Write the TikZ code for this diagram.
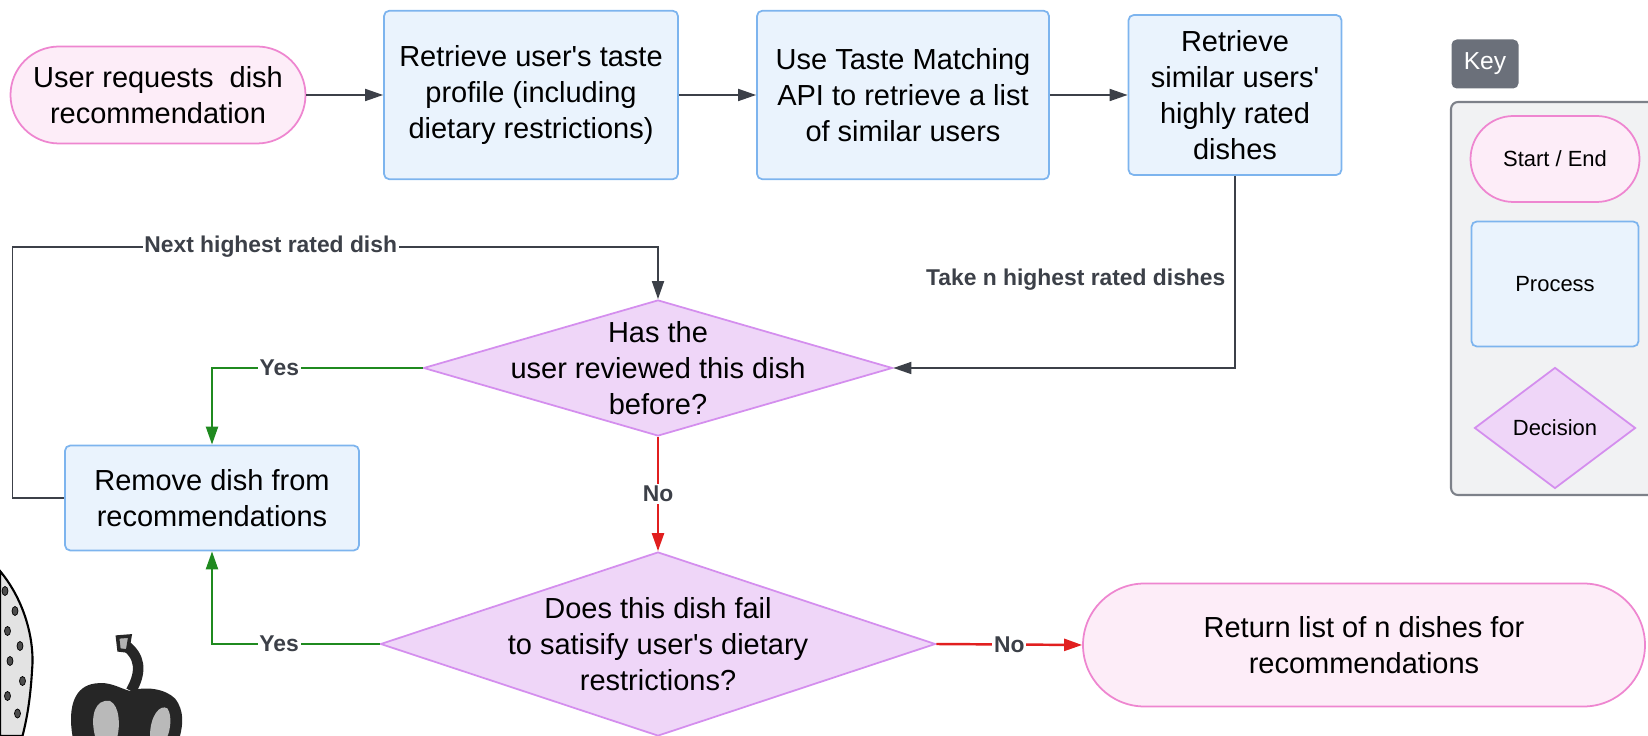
\documentclass[tikz,border=0pt]{standalone}
\usepackage{fontspec}
\setmainfont{Liberation Sans}
\usetikzlibrary{shapes.geometric,arrows.meta}
\definecolor{startfill}{HTML}{FDEDF8}
\definecolor{startdraw}{HTML}{EE86D0}
\definecolor{procfill}{HTML}{EAF3FD}
\definecolor{procdraw}{HTML}{7DB4EE}
\definecolor{decfill}{HTML}{EFD6F8}
\definecolor{decdraw}{HTML}{D48EEE}
\definecolor{linkgray}{HTML}{3C4048}
\definecolor{yesgreen}{HTML}{1F8A1F}
\definecolor{nored}{HTML}{E11F1F}
\definecolor{panelfill}{HTML}{F1F2F3}
\definecolor{paneldraw}{HTML}{7D8189}
\definecolor{tagfill}{HTML}{6B707A}
\newcommand{\q}{\textquotesingle}
\begin{document}
\begin{tikzpicture}[font=\fontsize{16.5}{20.5}\selectfont,>={Triangle[length=3.6mm,width=2.4mm]},
	startend/.style={draw=startdraw,fill=startfill,line width=1pt,align=center},
	process/.style={draw=procdraw,fill=procfill,line width=1pt,rounded corners=3pt,align=center},
	decision/.style={diamond,draw=decdraw,fill=decfill,line width=1pt,inner sep=0pt},
	link/.style={draw=linkgray,line width=1pt},
	yes/.style={draw=yesgreen,line width=1.3pt,->},
	no/.style={draw=nored,line width=1.4pt,->},
	lab/.style={font=\fontsize{13}{15}\selectfont\bfseries,text=linkgray,fill=white,inner sep=1pt},
	keyfont/.style={font=\fontsize{12.5}{15}\selectfont}]
	\path[use as bounding box] (0,0) rectangle (32.96,14.72);
	%	top row
	\node[startend,minimum width=5.9cm,minimum height=1.94cm,rounded corners=0.97cm] (start) at (3.16,12.82) {User requests~ dish\\recommendation};
	\node[process,minimum width=5.88cm,minimum height=3.37cm] (profile) at (10.62,12.82) {Retrieve user\q s taste\\profile (including\\dietary restrictions)};
	\node[process,minimum width=5.84cm,minimum height=3.37cm] (match) at (18.06,12.82) {Use Taste Matching\\API to retrieve a list\\of similar users};
	\node[process,minimum width=4.26cm,minimum height=3.2cm] (similar) at (24.7,12.82) {Retrieve\\similar users\q\\highly rated\\dishes};
	%	decisions
	\node[decision,minimum width=9.38cm,minimum height=2.72cm,
		label={[align=center]center:Has the\\user reviewed this dish\\before?}] (seen) at (13.16,7.36) {};
	\node[process,minimum width=5.88cm,minimum height=2.1cm] (remove) at (4.24,4.76) {Remove dish from\\recommendations};
	\node[decision,minimum width=11.1cm,minimum height=3.68cm,
		label={[align=center]center:Does this dish fail\\to satisify user\q s dietary\\restrictions?}] (diet) at (13.16,1.84) {};
	\node[startend,minimum width=11.24cm,minimum height=2.46cm,rounded corners=1.23cm] (result) at (27.28,1.82) {Return list of n dishes for\\recommendations};
	%	connectors
	\draw[link,->] (start) -- (profile);
	\draw[link,->] (profile) -- (match);
	\draw[link,->] (match) -- (similar);
	\draw[link,->] (similar.south) -- node[pos=0.54,left=4pt,lab]{Take n highest rated dishes} (similar.south |- seen.east) -- (seen.east);
	\coordinate (loopleft) at (0.25,9.78);
	\draw[link,->] (remove.west) -| (loopleft) -- node[pos=0.4,lab]{Next highest rated dish} (loopleft -| seen.north) -- (seen.north);
	\draw[yes] (seen.west) -- node[pos=0.68,lab]{Yes} (seen.west -| remove.north) -- (remove.north);
	\draw[yes] (diet.west) -- node[pos=0.6,lab]{Yes} (diet.west -| remove.south) -- (remove.south);
	\draw[no] (seen.south) -- node[lab]{No} (diet.north);
	\draw[no] (diet.east) -- node[lab]{No} (result.west);
	%	key
	\node[fill=tagfill,rounded corners=3pt,text=white,font=\fontsize{14}{16}\selectfont,minimum width=1.34cm,minimum height=0.98cm] (keytag) at (29.7,13.44) {Key};
	\node[draw=paneldraw,fill=panelfill,line width=1.2pt,rounded corners=4pt,minimum width=4.5cm,minimum height=7.86cm] (keybox) at (31.27,8.75) {};
	\node[startend,keyfont,minimum width=3.38cm,minimum height=1.72cm,rounded corners=0.86cm] (keystart) at (31.1,11.54) {Start / End};
	\node[process,keyfont,minimum width=3.34cm,minimum height=2.5cm] (keyproc) at (31.1,9.04) {Process};
	\node[decision,keyfont,minimum width=3.22cm,minimum height=2.42cm] (keydec) at (31.1,6.16) {Decision};
	%	vegetable sketches
	\draw[line width=1.2pt,fill=gray!22] (0,3.3) .. controls (0.5,2.7) and (0.7,1.9) .. (0.64,1.3) .. controls (0.6,0.6) and (0.5,0.2) .. (0.45,0) -- (0,0) -- cycle;
	\foreach \x/\y in {0.1/2.9,0.3/2.5,0.15/2.1,0.4/1.8,0.2/1.5,0.45/1.1,0.15/0.8,0.35/0.45}
		\draw[fill=black!70] (\x,\y) ellipse (0.06 and 0.09);
	\fill[black!85] (1.45,0) .. controls (1.35,0.6) and (1.5,1.0) .. (1.9,1.05) .. controls (2.2,1.1) and (2.4,0.95) .. (2.6,0.9) .. controls (2.9,1.0) and (3.3,0.95) .. (3.5,0.75) .. controls (3.7,0.5) and (3.65,0.2) .. (3.6,0) -- cycle;
	\fill[gray!55] (1.9,0) .. controls (1.8,0.4) and (1.9,0.75) .. (2.2,0.7) .. controls (2.4,0.6) and (2.4,0.2) .. (2.35,0) -- cycle;
	\fill[gray!55] (3.0,0) .. controls (3.0,0.4) and (3.2,0.65) .. (3.35,0.55) .. controls (3.45,0.4) and (3.4,0.1) .. (3.35,0) -- cycle;
	\draw[black!85,line width=6pt] (2.62,0.9) .. controls (2.85,1.3) and (2.8,1.6) .. (2.5,1.82);
	\draw[black!85,line width=2pt,fill=gray!60] (2.35,1.98) -- (2.6,2.0) -- (2.55,1.7) -- (2.38,1.72) -- cycle;
\end{tikzpicture}
\end{document}
